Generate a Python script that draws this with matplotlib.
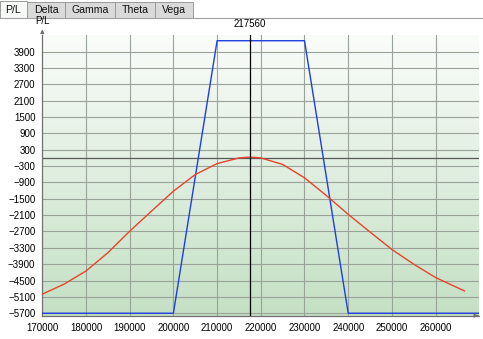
import numpy as np
import matplotlib.pyplot as plt
from matplotlib.patches import Rectangle

# ------------------------------ Data ------------------------------
TABS = ["P/L", "Delta", "Gamma", "Theta", "Vega"]

# expiry payoff (blue)
EXP_X = [170000, 200000, 210000, 230000, 240000, 270000]
EXP_Y = [-5700, -5700, 4300, 4300, -5700, -5700]

# today's P/L (red)
NOW_X = [170000, 175000, 180000, 185000, 190000, 195000, 200000, 205000, 210000,
         215000, 217560, 220000, 225000, 230000, 235000, 240000, 245000, 250000,
         255000, 260000, 266600]
NOW_Y = [-5000, -4630, -4150, -3480, -2690, -1950, -1220, -610, -210,
         0, 30, 0, -240, -730, -1380, -2070, -2720, -3360,
         -3900, -4390, -4880]

SPOT = 217560
X_TICKS = list(range(170000, 260001, 10000))
Y_TICKS = list(range(3900, -5701, -600))

# ------------------------------ Style ------------------------------
plt.rcParams.update({
    "font.family": ["Liberation Sans", "DejaVu Sans"],
    "font.size": 7,
})
W, H = 483, 339
fig = plt.figure(figsize=(W / 100, H / 100), dpi=100)
fig.patch.set_facecolor("white")

def fx(px): return px / W
def fy(py): return 1 - py / H

# tab strip
tab_edges = [0, 27, 65, 115, 155, 193]
fig.add_artist(plt.Line2D([fx(0), fx(W)], [fy(17.5), fy(17.5)], color="#a0a0a0", lw=0.8))
for i, name in enumerate(TABS):
    x0, x1 = tab_edges[i], tab_edges[i + 1]
    sel = i == 0
    top = 1 if sel else 2
    fc = "#f6f9f6" if sel else "#dadada"
    fig.add_artist(Rectangle((fx(x0), fy(18)), fx(x1 - x0), fy(top) - fy(18),
                             transform=fig.transFigure, fc=fc, ec="#9a9a9a", lw=0.7))
    fig.text(fx((x0 + x1) / 2), fy(10), name, ha="center", va="center", fontsize=7.6, color="#111111")

ax = fig.add_axes([fx(42.3), fy(315.7), fx(437), (315.7 - 35) / H])
ax.set_xlim(170000, 270000)
ax.set_ylim(-5790, 4510)

# background gradient
grad = np.linspace(0, 1, 256).reshape(-1, 1)
top_c = np.array([250, 252, 250]) / 255
bot_c = np.array([196, 224, 196]) / 255
img = top_c + (bot_c - top_c) * grad[..., None]
ax.imshow(img, extent=[0, 1, 0, 1], transform=ax.transAxes, aspect="auto", zorder=0)

# grid
for x in X_TICKS[1:]:
    ax.axvline(x, color="#9aa39a", lw=0.8, zorder=1)
for y in Y_TICKS:
    ax.axhline(y, color="#9aa39a", lw=0.8, zorder=1)
ax.axhline(0, color="#5a5a5a", lw=0.9, zorder=1)

ax.plot(EXP_X, EXP_Y, color="#1f3ee0", lw=1.0, zorder=3)
ax.plot(NOW_X, NOW_Y, color="#e8432b", lw=1.0, zorder=3)
ax.axvline(SPOT, color="black", lw=0.9, zorder=4)
ax.text(SPOT, 4510 + 230, str(SPOT), ha="center", va="bottom")

ax.set_xticks(X_TICKS)
ax.set_yticks(Y_TICKS)
ax.tick_params(length=0, pad=5, colors="black")
for s in ("top", "right"):
    ax.spines[s].set_visible(False)
for s in ("left", "bottom"):
    ax.spines[s].set_color("#707070")
    ax.spines[s].set_linewidth(0.9)

# axis arrows
ax.annotate("", xy=(0, 1.03), xytext=(0, 0.995), xycoords="axes fraction",
            arrowprops=dict(arrowstyle="-|>", color="#707070", lw=0.9, mutation_scale=5),
            annotation_clip=False)
ax.annotate("", xy=(1.004, 0), xytext=(0.99, 0), xycoords="axes fraction",
            arrowprops=dict(arrowstyle="-|>", color="#707070", lw=0.9, mutation_scale=5),
            annotation_clip=False)
fig.text(fx(35), fy(21), "P/L", ha="left", va="center")

fig.savefig("out.png", dpi=100)
